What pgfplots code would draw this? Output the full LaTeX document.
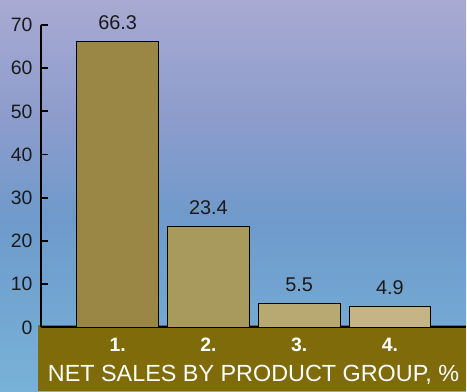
\documentclass[border=0pt]{standalone}
\usepackage{pgfplots}
\pgfplotsset{compat=1.18}
\usepackage{fontspec}
\setmainfont{Liberation Sans}
\definecolor{bgtop}{HTML}{A8AAD2}
\definecolor{bgup}{HTML}{8C9CCC}
\definecolor{bgmid}{HTML}{6E9ACB}
\definecolor{bgbot}{HTML}{78B2D8}
\definecolor{band}{HTML}{806B0A}
\definecolor{barA}{HTML}{9A8645}
\definecolor{barB}{HTML}{A89A5D}
\definecolor{barC}{HTML}{B8A872}
\definecolor{barD}{HTML}{C4B486}
\definecolor{txt}{HTML}{1A1A1A}
\pgfdeclareverticalshading{bgshade}{100bp}{color(0bp)=(bgbot); color(25bp)=(bgbot); color(46.9bp)=(bgmid); color(59.7bp)=(bgup); color(75bp)=(bgtop); color(100bp)=(bgtop)}
\begin{document}
\begin{tikzpicture}[x=1bp,y=1bp]
\shade[shading=bgshade] (0,0) rectangle (467,392);
\fill[band] (38,0) rectangle (467,66);
\begin{axis}[
  at={(41bp,64bp)}, anchor=south west,
  scale only axis, width=426bp, height=303bp,
  xmin=0.154, xmax=4.84, ymin=0, ymax=70,
  axis y line*=left, axis x line*=bottom,
  axis line style={black, line width=1.8pt},
  clip=false,
  ytick={0,10,...,70},
  xtick={1,2,3,4},
  xticklabels={1.,2.,3.,4.},
  x tick label style={font=\fontsize{19.5}{19.5}\selectfont\bfseries, text=white, anchor=center, yshift=-10bp},
  y tick label style={font=\fontsize{19.5}{19.5}\selectfont, text=txt, xshift=-5bp},
  /pgf/number format/assume math mode=true,
  major x tick style={draw=none},
  major y tick style={black, line width=1.8pt},
  tick align=inside, major tick length=7bp,
  xlabel={NET SALES BY PRODUCT GROUP, \%},
  xlabel style={font=\fontsize{23.5}{23.5}\selectfont, text=white, at={(axis description cs:0.5,0)}, anchor=center, yshift=-48bp},
  ybar, bar width=0.9, bar shift=0pt,
  nodes near coords,
  every node near coord/.append style={font=\fontsize{20}{20}\selectfont, text=txt, yshift=8bp},
]
\addplot[draw=black, line width=0.8pt, fill=barA] coordinates {(1,66.3)};
\addplot[draw=black, line width=0.8pt, fill=barB] coordinates {(2,23.4)};
\addplot[draw=black, line width=0.8pt, fill=barC] coordinates {(3,5.5)};
\addplot[draw=black, line width=0.8pt, fill=barD] coordinates {(4,4.9)};
\end{axis}
\end{tikzpicture}
\end{document}
